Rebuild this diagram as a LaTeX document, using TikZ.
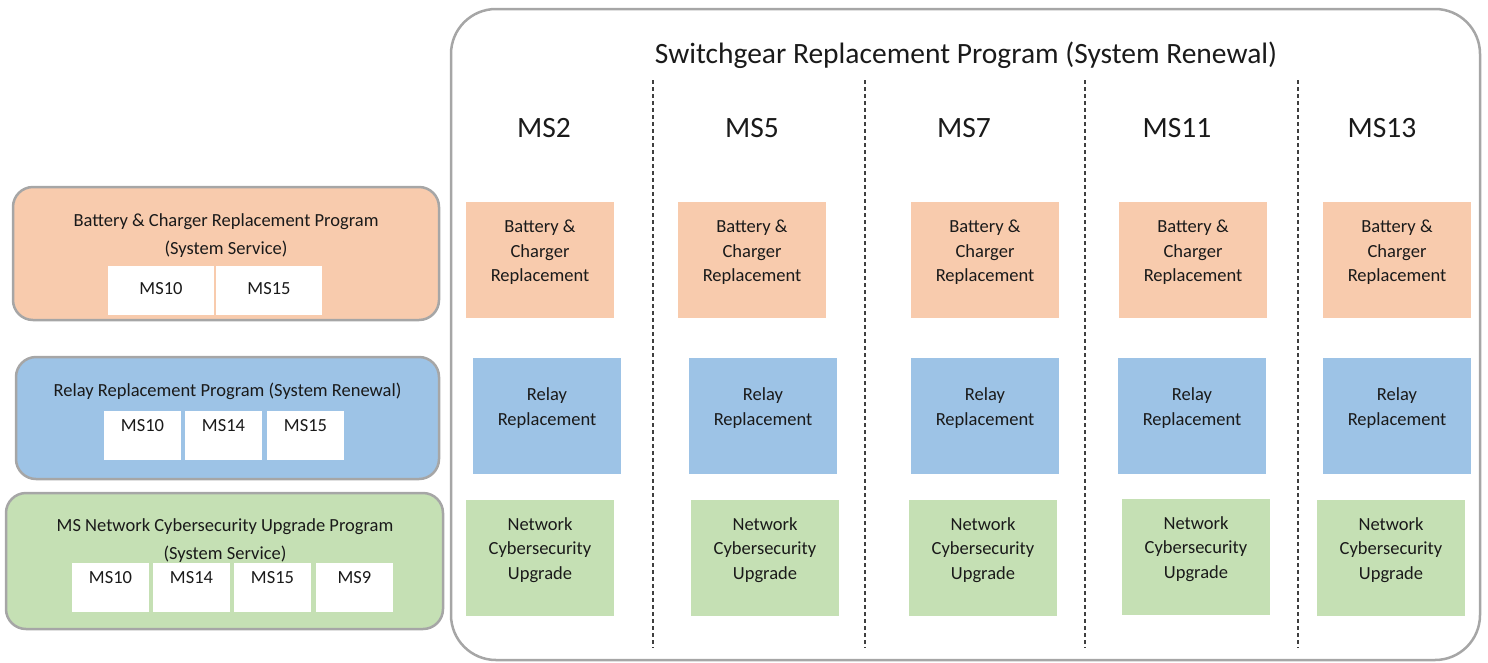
\documentclass[tikz,border=0pt]{standalone}
\usepackage{fontspec}
\setmainfont{Carlito}
\definecolor{battFill}{HTML}{F8CBAD}
\definecolor{relayFill}{HTML}{9DC3E6}
\definecolor{netFill}{HTML}{C5E0B4}
\definecolor{edgeGray}{HTML}{A6A6A6}
\definecolor{dividerGray}{HTML}{3F3F3F}
\definecolor{inkBlack}{HTML}{1A1A1A}
% fixed-size box with its text hung a given distance below the top edge
\newcommand{\hungtext}[4]{\parbox[c][#2pt][t]{#1pt}{\centering\vspace*{#3pt}#4\par}}
\begin{document}
\begin{tikzpicture}[x=1pt,y=-1pt,
  every node/.style={text=inkBlack},
  tile/.style={anchor=north west, inner sep=0pt, outer sep=0pt,
    font=\fontsize{18.5}{24.5}\selectfont},
  batt/.style={tile, fill=battFill},
  relay/.style={tile, fill=relayFill},
  net/.style={tile, fill=netFill},
  chip/.style={tile, fill=white},
  panel/.style={draw=edgeGray, line width=2.5pt, rounded corners=20pt,
    anchor=north west, inner sep=0pt, outer sep=0pt},
  heading/.style={anchor=base, inner sep=0pt, font=\fontsize{29.5}{36}\selectfont},
  caption/.style={anchor=north, inner sep=0pt, align=center,
    font=\fontsize{18.5}{28}\selectfont},
  divider/.style={draw=dividerGray, line width=1.5pt, dash pattern=on 4pt off 3pt}
]
\useasboundingbox (0,0) rectangle (1488,662);

% ---- switchgear programme frame ----
\node[panel, rounded corners=45pt, minimum width=1029pt, minimum height=651pt]
  (frame) at (451,9) {};
\node[heading] (sgtitle) at (966,63.5) {Switchgear Replacement Program (System Renewal)};

% station headings
\node[heading] (st2)  at (544,137)  {MS2};
\node[heading] (st5)  at (752,137)  {MS5};
\node[heading] (st7)  at (964,137)  {MS7};
\node[heading] (st11) at (1177,137) {MS11};
\node[heading] (st13) at (1382,137) {MS13};

% column separators
\foreach \x in {653,865,1085,1298}
  \draw[divider] (\x,80) -- (\x,648);

% battery & charger tiles
\foreach \x [count=\i] in {466,678,911,1119,1323}
  \node[batt] (bat\i) at (\x,202)
    {\hungtext{148}{116}{18}{Battery \&\\Charger\\Replacement}};

% relay tiles
\foreach \x [count=\i] in {473,689,911,1118,1323}
  \node[relay] (rel\i) at (\x,358)
    {\hungtext{148}{116}{30}{Relay\\Replacement}};

% cybersecurity tiles
\foreach \x/\y [count=\i] in {466/500,691/500,909/500,1122/499,1317/500}
  \node[net] (cyb\i) at (\x,\y)
    {\hungtext{148}{116}{17.5}{Network\\Cybersecurity\\Upgrade}};

% ---- battery & charger programme ----
\node[panel, fill=battFill, minimum width=426pt, minimum height=133pt]
  (battprog) at (13,187) {};
\node[caption] (battcap) at (226,213.5)
  {Battery \& Charger Replacement Program\\(System Service)};
\node[chip] (bc10) at (108,266) {\hungtext{106}{49}{16.5}{MS10}};
\node[chip] (bc15) at (216,266) {\hungtext{106}{49}{16.5}{MS15}};

% ---- relay programme ----
\node[panel, fill=relayFill, minimum width=423pt, minimum height=122pt]
  (relprog) at (16,357) {};
\node[caption] (relcap) at (227.5,382.5)
  {Relay Replacement Program (System Renewal)};
\node[chip] (rp10) at (104,411) {\hungtext{77}{49}{8}{MS10}};
\node[chip] (rp14) at (185,411) {\hungtext{77}{49}{8}{MS14}};
\node[chip] (rp15) at (267,411) {\hungtext{77}{49}{8}{MS15}};

% ---- network cybersecurity programme ----
\node[panel, fill=netFill, minimum width=437pt, minimum height=136pt]
  (netprog) at (6,493) {};
\node[caption] (netcap) at (225,518.5)
  {MS Network Cybersecurity Upgrade Program\\(System Service)};
\node[chip] (nc10) at (72,563)  {\hungtext{77}{49}{8}{MS10}};
\node[chip] (nc14) at (153,563) {\hungtext{77}{49}{8}{MS14}};
\node[chip] (nc15) at (234,563) {\hungtext{77}{49}{8}{MS15}};
\node[chip] (nc9)  at (316,563) {\hungtext{77}{49}{8}{MS9}};
\end{tikzpicture}
\end{document}
